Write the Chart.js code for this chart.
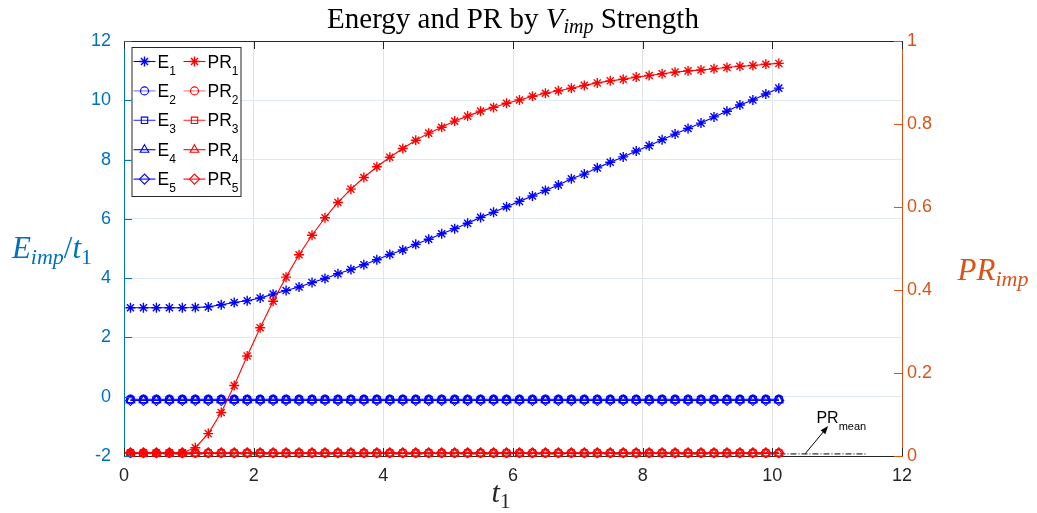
<!DOCTYPE html>
<html>
<head>
<meta charset="utf-8">
<script src="https://cdn.jsdelivr.net/npm/chart.js@4"></script>
<style>
  html, body { margin: 0; padding: 0; background: #fff; }
  #wrap { width: 1037px; height: 513px; position: relative; }
</style>
</head>
<body>
<div id="wrap"><canvas id="energyChart"></canvas></div>
<script>
// time samples t1
const t1 = [0.1, 0.3, 0.5, 0.7, 0.9, 1.1, 1.3, 1.5, 1.7, 1.9,
            2.1, 2.3, 2.5, 2.7, 2.9, 3.1, 3.3, 3.5, 3.7, 3.9,
            4.1, 4.3, 4.5, 4.7, 4.9, 5.1, 5.3, 5.5, 5.7, 5.9,
            6.1, 6.3, 6.5, 6.7, 6.9, 7.1, 7.3, 7.5, 7.7, 7.9,
            8.1, 8.3, 8.5, 8.7, 8.9, 9.1, 9.3, 9.5, 9.7, 9.9,
            10.1];

// energy E_imp / t1 (left axis)
const E1 = [3.00, 3.00, 3.00, 3.00, 3.00, 3.01, 3.03, 3.10, 3.18, 3.24,
            3.33, 3.46, 3.58, 3.70, 3.85, 3.99, 4.15, 4.29, 4.45, 4.62,
            4.80, 4.95, 5.14, 5.31, 5.50, 5.67, 5.85, 6.05, 6.22, 6.41,
            6.59, 6.77, 6.96, 7.14, 7.35, 7.51, 7.72, 7.91, 8.09, 8.29,
            8.47, 8.67, 8.86, 9.05, 9.23, 9.44, 9.63, 9.84, 10.01, 10.21,
            10.41];
const E2 = [-0.08, -0.08, -0.08, -0.08, -0.08, -0.08, -0.08, -0.08, -0.08, -0.08,
            -0.08, -0.08, -0.08, -0.08, -0.08, -0.08, -0.08, -0.08, -0.08, -0.08,
            -0.08, -0.08, -0.08, -0.08, -0.08, -0.08, -0.08, -0.08, -0.08, -0.08,
            -0.08, -0.08, -0.08, -0.08, -0.08, -0.08, -0.08, -0.08, -0.08, -0.08,
            -0.08, -0.08, -0.08, -0.08, -0.08, -0.08, -0.08, -0.08, -0.08, -0.08,
            -0.08];
const E3 = [-0.10, -0.10, -0.10, -0.10, -0.10, -0.10, -0.10, -0.10, -0.10, -0.10,
            -0.10, -0.10, -0.10, -0.10, -0.10, -0.10, -0.10, -0.10, -0.10, -0.10,
            -0.10, -0.10, -0.10, -0.10, -0.10, -0.10, -0.10, -0.10, -0.10, -0.10,
            -0.10, -0.10, -0.10, -0.10, -0.10, -0.10, -0.10, -0.10, -0.10, -0.10,
            -0.10, -0.10, -0.10, -0.10, -0.10, -0.10, -0.10, -0.10, -0.10, -0.10,
            -0.10];
const E4 = [-0.12, -0.12, -0.12, -0.12, -0.12, -0.12, -0.12, -0.12, -0.12, -0.12,
            -0.12, -0.12, -0.12, -0.12, -0.12, -0.12, -0.12, -0.12, -0.12, -0.12,
            -0.12, -0.12, -0.12, -0.12, -0.12, -0.12, -0.12, -0.12, -0.12, -0.12,
            -0.12, -0.12, -0.12, -0.12, -0.12, -0.12, -0.12, -0.12, -0.12, -0.12,
            -0.12, -0.12, -0.12, -0.12, -0.12, -0.12, -0.12, -0.12, -0.12, -0.12,
            -0.12];
const E5 = [-0.13, -0.13, -0.13, -0.13, -0.13, -0.13, -0.13, -0.13, -0.13, -0.13,
            -0.13, -0.13, -0.13, -0.13, -0.13, -0.13, -0.13, -0.13, -0.13, -0.13,
            -0.13, -0.13, -0.13, -0.13, -0.13, -0.13, -0.13, -0.13, -0.13, -0.13,
            -0.13, -0.13, -0.13, -0.13, -0.13, -0.13, -0.13, -0.13, -0.13, -0.13,
            -0.13, -0.13, -0.13, -0.13, -0.13, -0.13, -0.13, -0.13, -0.13, -0.13,
            -0.13];

// participation ratio PR_imp (right axis)
const PR1 = [0.007, 0.007, 0.007, 0.007, 0.008, 0.020, 0.054, 0.105, 0.170, 0.241,
             0.309, 0.373, 0.431, 0.485, 0.532, 0.574, 0.611, 0.643, 0.671, 0.697,
             0.720, 0.741, 0.761, 0.778, 0.792, 0.807, 0.819, 0.831, 0.840, 0.850,
             0.858, 0.867, 0.874, 0.880, 0.886, 0.893, 0.899, 0.904, 0.908, 0.913,
             0.917, 0.921, 0.925, 0.928, 0.930, 0.933, 0.936, 0.939, 0.941, 0.944,
             0.946];
const PR2 = [0.007, 0.007, 0.007, 0.007, 0.007, 0.007, 0.007, 0.007, 0.007, 0.007,
             0.007, 0.007, 0.007, 0.007, 0.007, 0.007, 0.007, 0.007, 0.007, 0.007,
             0.007, 0.007, 0.007, 0.007, 0.007, 0.007, 0.007, 0.007, 0.007, 0.007,
             0.007, 0.007, 0.007, 0.007, 0.007, 0.007, 0.007, 0.007, 0.007, 0.007,
             0.007, 0.007, 0.007, 0.007, 0.007, 0.007, 0.007, 0.007, 0.007, 0.007,
             0.007];
const PR3 = [0.007, 0.007, 0.007, 0.007, 0.007, 0.007, 0.007, 0.007, 0.007, 0.007,
             0.007, 0.007, 0.007, 0.007, 0.007, 0.007, 0.007, 0.007, 0.007, 0.007,
             0.007, 0.007, 0.007, 0.007, 0.007, 0.007, 0.007, 0.007, 0.007, 0.007,
             0.007, 0.007, 0.007, 0.007, 0.007, 0.007, 0.007, 0.007, 0.007, 0.007,
             0.007, 0.007, 0.007, 0.007, 0.007, 0.007, 0.007, 0.007, 0.007, 0.007,
             0.007];
const PR4 = [0.006, 0.006, 0.006, 0.006, 0.006, 0.006, 0.006, 0.006, 0.006, 0.006,
             0.006, 0.006, 0.006, 0.006, 0.006, 0.006, 0.006, 0.006, 0.006, 0.006,
             0.006, 0.006, 0.006, 0.006, 0.006, 0.006, 0.006, 0.006, 0.006, 0.006,
             0.006, 0.006, 0.006, 0.006, 0.006, 0.006, 0.006, 0.006, 0.006, 0.006,
             0.006, 0.006, 0.006, 0.006, 0.006, 0.006, 0.006, 0.006, 0.006, 0.006,
             0.006];
const PR5 = [0.008, 0.008, 0.008, 0.008, 0.008, 0.008, 0.008, 0.008, 0.008, 0.008,
             0.008, 0.008, 0.008, 0.008, 0.008, 0.008, 0.008, 0.008, 0.008, 0.008,
             0.008, 0.008, 0.008, 0.008, 0.008, 0.008, 0.008, 0.008, 0.008, 0.008,
             0.008, 0.008, 0.008, 0.008, 0.008, 0.008, 0.008, 0.008, 0.008, 0.008,
             0.008, 0.008, 0.008, 0.008, 0.008, 0.008, 0.008, 0.008, 0.008, 0.008,
             0.008];

// mean PR reference line
const prMeanT = [0.1, 11.45];
const prMean = [0.005, 0.005];

// tick positions
const tTicks = [0, 2, 4, 6, 8, 10, 12];
const eTicks = [-2, 0, 2, 4, 6, 8, 10, 12];
const prTicks = [0, 0.2, 0.4, 0.6, 0.8, 1];

const BLUE_AX = '#0072BD';
const ORANGE_AX = '#D95319';
const INK = '#262626';
const SANS = '"Liberation Sans", Arial, sans-serif';
const SERIF = '"Liberation Serif", "Times New Roman", serif';

const pts = (xs, ys) => xs.map((x, i) => ({ x: x, y: ys[i] }));

function series(label, ys, axis, color, style, radius, lineAlpha) {
    return {
        label: label,
        data: pts(t1, ys),
        yAxisID: axis,
        borderColor: lineAlpha ? color.replace('1)', lineAlpha + ')') : color,
        borderWidth: 1.1,
        pointStyle: style,
        pointRadius: radius,
        pointBorderWidth: style === 'star' ? 1.4 : 1.1,
        pointBorderColor: color,
        pointBackgroundColor: 'rgba(0,0,0,0)',
        tension: 0,
        clip: false,
        order: axis === 'yPR' ? 0 : 1
    };
}

const BLUE = 'rgba(0,0,255,1)';
const RED = 'rgba(255,0,0,1)';

const datasets = [
    series('E_1', E1, 'yE', BLUE, 'star', 5),
    series('E_2', E2, 'yE', BLUE, 'circle', 4, 0.55),
    series('E_3', E3, 'yE', BLUE, 'rect', 4.5, 0.8),
    series('E_4', E4, 'yE', BLUE, 'triangle', 5),
    series('E_5', E5, 'yE', BLUE, 'rectRot', 5),
    series('PR_1', PR1, 'yPR', RED, 'star', 5),
    series('PR_2', PR2, 'yPR', RED, 'circle', 4, 0.55),
    series('PR_3', PR3, 'yPR', RED, 'rect', 4.5, 0.8),
    series('PR_4', PR4, 'yPR', RED, 'triangle', 5),
    series('PR_5', PR5, 'yPR', RED, 'rectRot', 5),
    {
        label: 'PR_mean',
        data: pts(prMeanT, prMean),
        yAxisID: 'yPR',
        borderColor: '#000',
        borderWidth: 1,
        borderDash: [6, 2, 1, 2],
        pointRadius: 0,
        clip: false,
        order: 2,
        inLegend: false
    }
];

// text with subscripts, e.g. [{t:'E', it:true}, {t:'imp', it:true, sub:true}]
function richText(ctx, parts, x, y, o) {
    const subSize = o.subSize || o.size * 0.7;
    const subDrop = o.subDrop !== undefined ? o.subDrop : o.size * 0.22;
    const fontOf = p => (p.it ? 'italic ' : '') + (p.sub ? subSize : o.size) + 'px ' + o.family;
    let w = 0;
    parts.forEach(p => { ctx.font = fontOf(p); w += ctx.measureText(p.t).width; });
    let cx = o.align === 'center' ? x - w / 2 : (o.align === 'right' ? x - w : x);
    ctx.save();
    ctx.fillStyle = o.color;
    ctx.textAlign = 'left';
    ctx.textBaseline = 'alphabetic';
    parts.forEach(p => {
        ctx.font = fontOf(p);
        ctx.fillText(p.t, cx, p.sub ? y + subDrop : y);
        cx += ctx.measureText(p.t).width;
    });
    ctx.restore();
}

// inward tick marks, top border, titles, legend and the PR_mean note
const decorations = {
    id: 'decorations',
    afterDatasetsDraw(chart) {
        const ctx = chart.ctx;
        const a = chart.chartArea;
        const xs = chart.scales.x, yE = chart.scales.yE, yPR = chart.scales.yPR;
        const TL = 8;

        ctx.save();
        ctx.lineWidth = 1;
        ctx.strokeStyle = INK;
        ctx.beginPath();
        ctx.moveTo(a.left, a.top + 0.5);
        ctx.lineTo(a.right, a.top + 0.5);
        tTicks.forEach(v => {
            const px = Math.round(xs.getPixelForValue(v)) + 0.5;
            ctx.moveTo(px, a.bottom);
            ctx.lineTo(px, a.bottom - TL);
            ctx.moveTo(px, a.top);
            ctx.lineTo(px, a.top + TL);
        });
        ctx.stroke();

        ctx.strokeStyle = BLUE_AX;
        ctx.beginPath();
        eTicks.forEach(v => {
            const py = Math.round(yE.getPixelForValue(v)) + 0.5;
            ctx.moveTo(a.left, py);
            ctx.lineTo(a.left + TL, py);
        });
        ctx.stroke();

        ctx.strokeStyle = ORANGE_AX;
        ctx.beginPath();
        prTicks.forEach(v => {
            const py = Math.round(yPR.getPixelForValue(v)) + 0.5;
            ctx.moveTo(a.right, py);
            ctx.lineTo(a.right - TL, py);
        });
        ctx.stroke();

        // PR_mean arrow
        const tx = xs.getPixelForValue(10.51), ty = yPR.getPixelForValue(0.006);
        const hx = xs.getPixelForValue(10.86), hy = yPR.getPixelForValue(0.072);
        const ang = Math.atan2(hy - ty, hx - tx);
        ctx.strokeStyle = '#000';
        ctx.fillStyle = '#000';
        ctx.lineWidth = 1;
        ctx.beginPath();
        ctx.moveTo(tx, ty);
        ctx.lineTo(hx - 6 * Math.cos(ang), hy - 6 * Math.sin(ang));
        ctx.stroke();
        ctx.beginPath();
        ctx.moveTo(hx, hy);
        ctx.lineTo(hx - 8 * Math.cos(ang) + 3 * Math.sin(ang), hy - 8 * Math.sin(ang) - 3 * Math.cos(ang));
        ctx.lineTo(hx - 8 * Math.cos(ang) - 3 * Math.sin(ang), hy - 8 * Math.sin(ang) + 3 * Math.cos(ang));
        ctx.closePath();
        ctx.fill();
        richText(ctx, [{ t: 'PR' }, { t: 'mean', sub: true }],
            xs.getPixelForValue(10.68), yPR.getPixelForValue(0.079),
            { family: SANS, size: 16, subSize: 11, subDrop: 7, color: '#000', align: 'left' });

        // legend box, two columns
        const box = { x: a.left + 7.5, y: a.top + 6, w: 109, h: 149 };
        ctx.fillStyle = '#fff';
        ctx.fillRect(box.x, box.y, box.w, box.h);
        ctx.strokeStyle = INK;
        ctx.lineWidth = 1;
        ctx.strokeRect(box.x + 0.5, box.y + 0.5, box.w, box.h);
        const shown = chart.data.datasets.filter(d => d.inLegend !== false);
        shown.forEach((d, i) => {
            const col = Math.floor(i / 5), row = i % 5;
            const x0 = box.x + 2 + col * 50;
            const cy = box.y + 14.5 + row * 29.4;
            ctx.strokeStyle = d.borderColor;
            ctx.lineWidth = 1.1;
            ctx.beginPath();
            ctx.moveTo(x0, cy);
            ctx.lineTo(x0 + 22, cy);
            ctx.stroke();
            ctx.strokeStyle = d.pointBorderColor;
            ctx.fillStyle = 'rgba(0,0,0,0)';
            ctx.lineWidth = d.pointBorderWidth;
            Chart.helpers.drawPoint(ctx, { pointStyle: d.pointStyle, radius: d.pointRadius, rotation: 0, borderWidth: d.pointBorderWidth }, x0 + 11, cy);
            const parts = d.label.split('_');
            richText(ctx, [{ t: parts[0] }, { t: parts[1], sub: true }], x0 + 24, cy + 6,
                { family: SANS, size: 17.5, subSize: 12, subDrop: 7, color: '#000', align: 'left' });
        });

        // title and axis labels
        const midX = (a.left + a.right) / 2;
        richText(ctx, [{ t: 'Energy and PR by ' }, { t: 'V', it: true }, { t: 'imp', it: true, sub: true }, { t: ' Strength' }],
            midX, 28, { family: SERIF, size: 29, subSize: 20, subDrop: 5, color: '#000', align: 'center' });
        richText(ctx, [{ t: 't', it: true }, { t: '1', sub: true }],
            midX - 12, 502, { family: SERIF, size: 30, subSize: 21, subDrop: 6, color: INK, align: 'center' });
        richText(ctx, [{ t: 'E', it: true }, { t: 'imp', it: true, sub: true }, { t: '/' }, { t: 't', it: true }, { t: '1', sub: true }],
            52, 258, { family: SERIF, size: 31, subSize: 22, subDrop: 6, color: BLUE_AX, align: 'center' });
        richText(ctx, [{ t: 'PR', it: true }, { t: 'imp', it: true, sub: true }],
            993, 280, { family: SERIF, size: 31, subSize: 22, subDrop: 6, color: ORANGE_AX, align: 'center' });
        ctx.restore();
    }
};

new Chart(document.getElementById('energyChart'), {
    type: 'line',
    data: { datasets: datasets },
    options: {
        responsive: true,
        maintainAspectRatio: false,
        animation: false,
        events: [],
        layout: { padding: { top: 41, left: 0, right: 0, bottom: 0 } },
        plugins: {
            legend: { display: false },
            title: { display: false },
            tooltip: { enabled: false }
        },
        scales: {
            x: {
                type: 'linear',
                min: 0,
                max: 12,
                afterBuildTicks: s => { s.ticks = tTicks.map(v => ({ value: v })); },
                afterFit: s => { s.height = 57; },
                grid: { color: '#e3e3e3', drawTicks: false },
                border: { color: INK, width: 1 },
                ticks: { color: INK, padding: 9, font: { family: SANS, size: 18 } }
            },
            yE: {
                type: 'linear',
                position: 'left',
                min: -2,
                max: 12,
                afterBuildTicks: s => { s.ticks = eTicks.map(v => ({ value: v })); },
                afterFit: s => { s.width = 124; },
                grid: { color: '#dde8f2', drawTicks: false },
                border: { color: BLUE_AX, width: 1 },
                ticks: { color: BLUE_AX, padding: 13, font: { family: SANS, size: 18 } }
            },
            yPR: {
                type: 'linear',
                position: 'right',
                min: 0,
                max: 1,
                afterBuildTicks: s => { s.ticks = prTicks.map(v => ({ value: v })); },
                afterFit: s => { s.width = 135; },
                grid: { display: false, drawTicks: false },
                border: { color: ORANGE_AX, width: 1 },
                ticks: { color: ORANGE_AX, padding: 5, font: { family: SANS, size: 18 }, callback: v => String(v) }
            }
        }
    },
    plugins: [decorations]
});
</script>
</body>
</html>
